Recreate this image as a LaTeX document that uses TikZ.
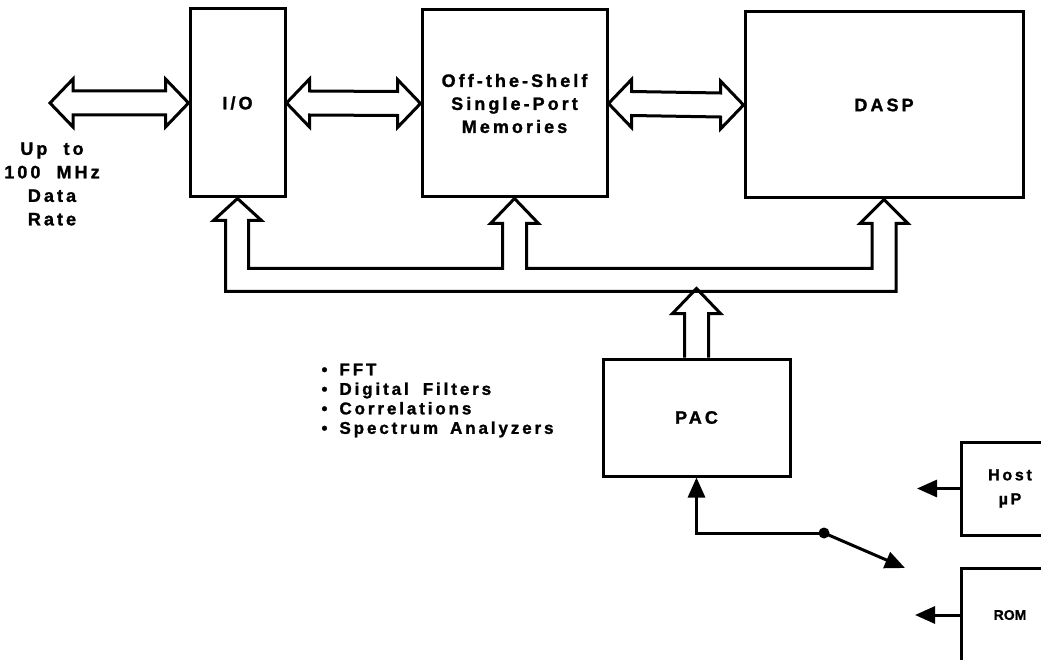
\documentclass[tikz,border=0pt]{standalone}
\usepackage{fontspec}
\setmainfont{Liberation Sans}[BoldFeatures={FakeBold=1.2}]
\newfontfamily\lblfont[LetterSpace=17,WordSpace=2,BoldFeatures={FakeBold=1.4}]{Liberation Sans}
\usetikzlibrary{arrows.meta,calc}

\tikzset{
  block/.style={rectangle, draw, line width=3pt, align=center,
    font=\lblfont\bfseries\fontsize{18}{23}\selectfont},
  busline/.style={draw, line width=3pt, line join=miter, fill=white},
  sigline/.style={line width=3pt, -{Triangle[length=20pt,width=17pt]}},
  dot/.style={circle, fill, inner sep=0pt, minimum size=11pt},
}

% hollow two-way bus arrow between two tips on one level
\newcommand\hollowpair[2]{%
  \draw[busline] (#1) -- ++(23,-24) -- ++(0,12) -- ($(#2)+(-23,-12)$)
    -- ++(0,-12) -- (#2) -- ++(-23,24) -- ++(0,-12) -- ($(#1)+(23,12)$)
    -- ++(0,12) -- cycle;}

\begin{document}
\begin{tikzpicture}[x=1pt, y=-1pt]
  \useasboundingbox (0,0) rectangle (1041,660);
  \clip (0,0) rectangle (1041,660);

  % blocks
  \node[block, minimum width=95pt, minimum height=188pt] (io) at (237.5,103) {I/O};
  \node[block, minimum width=185pt, minimum height=187pt] (mem) at (514.5,103.5)
    {Off-the-Shelf\\Single-Port\\Memories};
  \node[block, minimum width=278pt, minimum height=186pt] (dasp) at (884,105) {DASP};
  \node[block, minimum width=187pt, minimum height=117pt] (pac) at (696.5,417.5) {PAC};
  \node[block, minimum width=98pt, minimum height=93pt,
    font=\lblfont\bfseries\fontsize{16}{24}\selectfont] (host) at (1010,488.5) {Host\\µ\,P};
  \node[block, minimum width=98pt, minimum height=94pt,
    font=\bfseries\fontsize{14}{16}\selectfont] (rom) at (1010,615) {ROM};

  % labels
  \node[align=center, font=\lblfont\bfseries\fontsize{18}{23.5}\selectfont] (rate)
    at (52,184) {Up to\\100 MHz\\Data\\Rate};
  \node[anchor=west, align=left, font=\lblfont\bfseries\fontsize{17}{19.5}\selectfont] (apps)
    at (318,400.5) {•\hspace{12pt}FFT\\
      •\hspace{12pt}Digital\hspace{14pt}Filters\\
      •\hspace{12pt}Correlations\\
      •\hspace{12pt}Spectrum\hspace{12pt}Analyzers};

  % data paths
  \coordinate (datain) at (50,103);
  \hollowpair{datain}{io.west}
  \hollowpair{io.east}{mem.west}
  \hollowpair{mem.east}{dasp.west}

  % control bus
  \draw[busline] (io.south) -- ++(24,22) -- ++(-13,0) |- ($(mem.south)+(-12,70)$)
    -- ++(0,-45) -- ++(-12,0) -- (mem.south) -- ++(24,25) -- ++(-12,0)
    |- ($(dasp.south)+(-12,69)$) -- ++(0,-45) -- ++(-12,0) -- (dasp.south)
    -- ++(24,24) -- ++(-12,0) |- ($(io.south)+(-12,93)$) -- ++(0,-71)
    -- ++(-12,0) -- cycle;
  \draw[busline, fill=none] (pac.north) ++(-12,0) -- ++(0,-44) -- ++(-12,0)
    -- ++(24,-25) -- ++(24,25) -- ++(-12,0) -- ++(0,44);

  % program source
  \node[dot] (junc) at (824,533) {};
  \coordinate (swtip) at (905,568);
  \coordinate (hostout) at (917,488.5);
  \coordinate (romout) at (915,615);
  \draw[sigline] (junc.center) -| (pac.south);
  \draw[sigline] (junc.center) -- (swtip);
  \draw[sigline] (host.west) -- (hostout);
  \draw[sigline] (rom.west) -- (romout);
\end{tikzpicture}
\end{document}
